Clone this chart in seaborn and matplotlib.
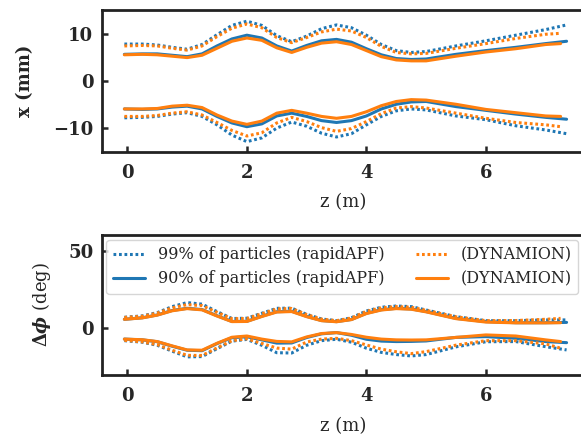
import numpy as np
import matplotlib
matplotlib.use("Agg")
import matplotlib.pyplot as plt
import seaborn as sns

# z positions (m)
z_rap = [-0.05, 0.25, 0.5, 0.75, 1.0, 1.25, 1.5, 1.75, 2.0, 2.25, 2.5, 2.75, 3.0,
         3.25, 3.5, 3.75, 4.0, 4.25, 4.5, 4.75, 5.0, 5.5, 6.0, 6.5, 7.0, 7.35]
z_dyn = [-0.05, 0.25, 0.5, 0.75, 1.0, 1.25, 1.5, 1.75, 2.0, 2.25, 2.5, 2.75, 3.0,
         3.25, 3.5, 3.75, 4.0, 4.25, 4.5, 4.75, 5.0, 5.5, 6.0, 6.5, 7.0, 7.25]

# transverse envelope x (mm)
x99_rap_up = [7.9, 7.9, 7.7, 7.2, 6.8, 7.8, 9.9, 11.9, 12.8, 11.9, 9.7, 8.4, 9.6,
              11.2, 12.0, 11.4, 9.8, 7.8, 6.5, 6.1, 6.3, 7.5, 8.6, 9.8, 11.0, 12.0]
x99_rap_lo = [-7.9, -7.8, -7.6, -7.1, -6.8, -7.6, -9.4, -11.6, -13.0, -12.2, -10.1, -8.8, -9.7,
              -11.2, -12.0, -11.3, -9.4, -7.6, -6.4, -6.0, -6.2, -7.5, -8.3, -9.6, -10.5, -11.3]
x90_rap_up = [5.7, 5.8, 5.8, 5.5, 5.2, 5.8, 7.5, 9.0, 9.8, 9.2, 7.5, 6.4, 7.6,
              8.6, 8.9, 8.3, 6.9, 5.6, 4.8, 4.6, 4.7, 5.7, 6.5, 7.2, 8.0, 8.5]
x90_rap_lo = [-6.0, -6.1, -6.0, -5.6, -5.4, -6.0, -7.6, -9.0, -9.8, -9.2, -7.5, -6.9, -7.6,
              -8.5, -8.9, -8.5, -7.5, -6.0, -5.0, -4.5, -4.4, -5.5, -6.3, -7.1, -7.8, -8.2]
x99_dyn_up = [7.5, 7.6, 7.5, 7.0, 6.6, 7.5, 9.5, 11.3, 12.2, 11.4, 9.3, 8.2, 9.3,
              10.5, 11.1, 10.7, 9.3, 7.4, 6.1, 5.8, 5.9, 7.0, 8.0, 9.1, 10.0, 10.2]
x99_dyn_lo = [-7.6, -7.6, -7.4, -6.9, -6.6, -7.3, -8.9, -10.6, -11.8, -11.1, -9.0, -7.8, -8.7,
              -10.0, -10.8, -10.2, -8.7, -7.0, -5.8, -5.5, -5.8, -6.9, -8.0, -8.9, -9.4, -9.8]
x90_dyn_up = [5.6, 5.7, 5.6, 5.3, 5.0, 5.5, 7.0, 8.5, 9.2, 8.7, 7.1, 6.1, 7.2,
              8.1, 8.4, 7.8, 6.5, 5.2, 4.5, 4.3, 4.3, 5.3, 6.2, 6.9, 7.8, 8.0]
x90_dyn_lo = [-6.0, -6.0, -5.9, -5.4, -5.2, -5.7, -7.3, -8.6, -9.3, -8.6, -6.9, -6.3, -6.9,
              -7.6, -8.0, -7.6, -6.6, -5.3, -4.4, -4.0, -4.1, -5.0, -6.1, -6.8, -7.5, -7.6]

# phase envelope (deg)
p99_rap_up = [7.1, 8.0, 10.1, 14.0, 16.6, 15.6, 10.8, 6.3, 6.5, 9.7, 12.9, 13.0, 9.0,
              6.0, 4.9, 6.8, 11.2, 13.6, 14.4, 14.0, 11.8, 7.5, 4.9, 4.9, 5.4, 5.4]
p99_rap_lo = [-8.0, -9.0, -11.0, -14.8, -18.5, -18.3, -13.2, -8.3, -7.2, -11.0, -15.8, -16.0, -11.0,
              -8.0, -7.1, -9.0, -12.9, -15.6, -17.0, -17.9, -17.0, -12.0, -8.7, -8.6, -11.9, -14.0]
p90_rap_up = [5.8, 6.8, 8.6, 11.5, 12.9, 12.1, 8.1, 4.4, 4.5, 7.8, 10.7, 11.0, 7.7,
              5.0, 4.3, 5.7, 9.7, 12.0, 12.9, 12.5, 10.8, 6.4, 4.3, 3.6, 3.6, 3.8]
p90_rap_lo = [-7.0, -7.5, -8.7, -11.6, -14.2, -14.5, -9.9, -6.1, -5.5, -7.5, -9.6, -9.5, -6.0,
              -3.6, -2.8, -4.5, -7.1, -8.3, -8.6, -8.5, -8.2, -5.9, -5.4, -6.5, -8.6, -9.3]
p99_dyn_up = [7.0, 7.8, 9.8, 13.2, 15.3, 14.6, 10.3, 6.2, 6.3, 9.4, 12.5, 12.8, 8.8,
              5.9, 4.9, 6.6, 10.9, 13.2, 14.0, 13.6, 11.6, 7.4, 4.9, 5.0, 5.8, 6.4]
p99_dyn_lo = [-7.8, -8.8, -10.6, -14.2, -17.5, -17.6, -12.7, -8.0, -6.8, -9.8, -12.8, -13.5, -8.9,
              -7.0, -6.5, -8.0, -10.8, -13.5, -15.2, -16.4, -15.1, -10.9, -8.0, -8.0, -10.1, -12.9]
p90_dyn_up = [5.8, 6.7, 8.5, 11.3, 12.7, 11.9, 7.9, 4.3, 4.4, 7.6, 10.5, 10.8, 7.5,
              4.9, 4.2, 5.6, 9.5, 11.8, 12.7, 12.3, 10.6, 6.2, 4.0, 3.5, 3.5, 3.6]
p90_dyn_lo = [-7.0, -7.4, -8.6, -11.4, -14.0, -14.2, -9.7, -5.8, -5.0, -7.0, -8.5, -8.8, -5.6,
              -3.4, -2.8, -4.0, -5.8, -7.0, -7.5, -7.6, -7.5, -5.9, -4.3, -5.0, -7.5, -8.6]

sns.set_style("ticks")
plt.rcParams['font.family'] = ['DejaVu Serif']
plt.rcParams['mathtext.fontset'] = 'dejavuserif'
plt.rcParams.update({
    'xtick.direction': 'in', 'ytick.direction': 'in',
    'xtick.major.size': 4, 'ytick.major.size': 4,
    'xtick.major.width': 1.8, 'ytick.major.width': 1.8,
    'xtick.major.pad': 9, 'ytick.major.pad': 6,
    'axes.linewidth': 2.0, 'axes.edgecolor': '#222222',
    'xtick.labelsize': 13, 'ytick.labelsize': 13,
})

blue = '#1f77b4'
orange = '#ff7f0e'
dotted = (0, (0.9, 0.9))

fig = plt.figure(figsize=(5.81, 4.34), dpi=100)
ax1 = fig.add_axes([0.175, 0.650, 0.830, 0.327])
ax2 = fig.add_axes([0.175, 0.136, 0.830, 0.3225])

series = [
    (z_rap, x99_rap_up, x99_rap_lo, p99_rap_up, p99_rap_lo, blue, dotted, '99% of particles (rapidAPF)'),
    (z_rap, x90_rap_up, x90_rap_lo, p90_rap_up, p90_rap_lo, blue, '-', '90% of particles (rapidAPF)'),
    (z_dyn, x99_dyn_up, x99_dyn_lo, p99_dyn_up, p99_dyn_lo, orange, dotted, '(DYNAMION)'),
    (z_dyn, x90_dyn_up, x90_dyn_lo, p90_dyn_up, p90_dyn_lo, orange, '-', '(DYNAMION)'),
]

for z, xu, xl, pu, pl, col, ls, lab in series:
    sns.lineplot(x=z, y=xu, ax=ax1, color=col, linestyle=ls, lw=2.2)
    sns.lineplot(x=z, y=xl, ax=ax1, color=col, linestyle=ls, lw=2.2)
    sns.lineplot(x=z, y=pu, ax=ax2, color=col, linestyle=ls, lw=2.2, label=lab)
    sns.lineplot(x=z, y=pl, ax=ax2, color=col, linestyle=ls, lw=2.2)

for ax in (ax1, ax2):
    ax.set_xlim(-0.43, 7.64)
    ax.set_xticks([0, 2, 4, 6])
    ax.set_xlabel('z (m)', fontsize=13, labelpad=8)

ax1.set_ylim(-15.2, 15.2)
ax1.set_yticks([-10, 0, 10])
ax1.set_ylabel('x (mm)', fontsize=13, fontweight='bold', labelpad=14)

ax2.set_ylim(-30.2, 60.3)
ax2.set_yticks([0, 50])
ax2.set_ylabel(r'$\mathbf{\Delta}\boldsymbol{\phi}$ (deg)', fontsize=13, labelpad=11)

for ax in (ax1, ax2):
    plt.setp(ax.get_xticklabels(), fontweight='bold')
    plt.setp(ax.get_yticklabels(), fontweight='bold')

ax2.legend(loc='upper left', ncol=2, fontsize=11.5, frameon=True,
           borderaxespad=0.3, columnspacing=2.0, handlelength=2.0,
           handletextpad=0.8, labelspacing=0.45, fancybox=True,
           edgecolor='#cccccc')

fig.savefig('out.png', dpi=100)
